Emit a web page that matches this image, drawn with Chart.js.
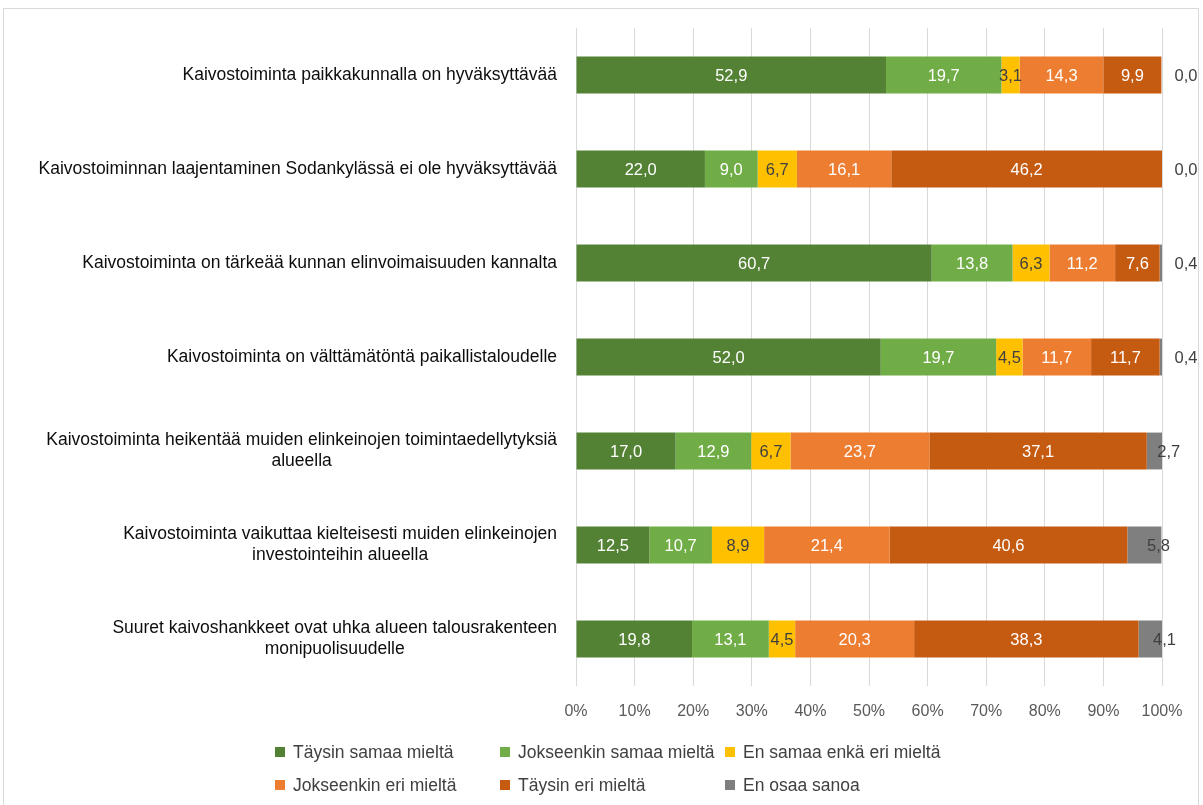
<!DOCTYPE html>
<html>
<head>
<meta charset="utf-8">
<script src="https://cdn.jsdelivr.net/npm/chart.js@4"></script>
<style>
  html, body { margin: 0; padding: 0; background: #fff; }
  #wrap { position: relative; width: 1203px; height: 805px; overflow: hidden; }
  #frame { position: absolute; left: 3px; top: 8px; width: 1196px; height: 800px; border: 1px solid #d9d9d9; box-sizing: border-box; }
  canvas { position: absolute; left: 0; top: 0; }
  .leg { position: absolute; font: 17.5px "Liberation Sans", Arial, sans-serif; color: #404040; white-space: nowrap; }
  .leg i { position: absolute; left: 0; top: 5px; width: 10px; height: 10px; }
  .leg span { position: absolute; left: 18px; top: 0; }
</style>
</head>
<body>
<div id="wrap">
  <div id="frame"></div>
  <canvas id="chart" width="1203" height="805"></canvas>
  <div id="legend"></div>
</div>
<script>
// statements (y axis), top to bottom
const categories = [
    ['Kaivostoiminta paikkakunnalla on hyväksyttävää'],
    ['Kaivostoiminnan laajentaminen Sodankylässä ei ole hyväksyttävää'],
    ['Kaivostoiminta on tärkeää kunnan elinvoimaisuuden kannalta'],
    ['Kaivostoiminta on välttämätöntä paikallistaloudelle'],
    ['Kaivostoiminta heikentää muiden elinkeinojen toimintaedellytyksiä', 'alueella'],
    ['Kaivostoiminta vaikuttaa kielteisesti muiden elinkeinojen', 'investointeihin alueella'],
    ['Suuret kaivoshankkeet ovat uhka alueen talousrakenteen', 'monipuolisuudelle']
];

const seriesNames = ['Täysin samaa mieltä', 'Jokseenkin samaa mieltä', 'En samaa enkä eri mieltä',
    'Jokseenkin eri mieltä', 'Täysin eri mieltä', 'En osaa sanoa'];

const taysinSamaa = [52.9, 22.0, 60.7, 52.0, 17.0, 12.5, 19.8];
const jokseenkinSamaa = [19.7, 9.0, 13.8, 19.7, 12.9, 10.7, 13.1];
const eiKumpaakaan = [3.1, 6.7, 6.3, 4.5, 6.7, 8.9, 4.5];
const jokseenkinEri = [14.3, 16.1, 11.2, 11.7, 23.7, 21.4, 20.3];
const taysinEri = [9.9, 46.2, 7.6, 11.7, 37.1, 40.6, 38.3];
const eiOsaa = [0.0, 0.0, 0.4, 0.4, 2.7, 5.8, 4.1];

const xTicks = [0, 10, 20, 30, 40, 50, 60, 70, 80, 90, 100];

const colors = ['#548235', '#70ad47', '#ffc000', '#ed7d31', '#c55a11', '#7f7f7f'];
const labelColors = ['#ffffff', '#ffffff', '#404040', '#ffffff', '#ffffff', '#404040'];
const FONT = '"Liberation Sans", Arial, sans-serif';

const series = [taysinSamaa, jokseenkinSamaa, eiKumpaakaan, jokseenkinEri, taysinEri, eiOsaa];

const fmt = v => v.toFixed(1).replace('.', ',');

// labels on the bars
const barLabels = {
    id: 'barLabels',
    afterDatasetsDraw(chart) {
        const ctx = chart.ctx;
        const right = chart.scales.x.getPixelForValue(100);
        ctx.save();
        ctx.font = '16.5px ' + FONT;
        ctx.textAlign = 'center';
        ctx.textBaseline = 'middle';
        chart.data.datasets.forEach((ds, di) => {
            chart.getDatasetMeta(di).data.forEach((bar, i) => {
                const v = ds.data[i];
                let x = (bar.x + bar.base) / 2;
                if (di === 5) x = v < 1 ? right + 24 : x + 14;
                ctx.fillStyle = labelColors[di];
                ctx.fillText(fmt(v), x, bar.y + 1);
            });
        });
        ctx.restore();
    }
};

// category labels, right aligned block with centred lines
const catLabels = {
    id: 'catLabels',
    afterDraw(chart) {
        const ctx = chart.ctx;
        const y = chart.scales.y;
        const edge = chart.scales.x.left - 19;
        ctx.save();
        ctx.font = '17.5px ' + FONT;
        ctx.fillStyle = '#0d0d0d';
        ctx.textAlign = 'center';
        ctx.textBaseline = 'middle';
        categories.forEach((lines, i) => {
            const w = Math.max(...lines.map(l => ctx.measureText(l).width));
            const cy = y.getPixelForValue(i);
            const lh = 21;
            lines.forEach((l, k) => {
                ctx.fillText(l, edge - w / 2, cy + (k - (lines.length - 1) / 2) * lh);
            });
        });
        ctx.restore();
    }
};

new Chart(document.getElementById('chart'), {
    type: 'bar',
    data: {
        labels: categories.map(c => c.join(' ')),
        datasets: series.map((d, i) => ({
            label: seriesNames[i],
            data: d,
            backgroundColor: colors[i],
            borderWidth: 0,
            barPercentage: 0.8,
            categoryPercentage: 0.49
        }))
    },
    options: {
        indexAxis: 'y',
        responsive: false,
        animation: false,
        layout: { padding: { left: 0, right: 41, top: 28, bottom: 79 } },
        plugins: { legend: { display: false }, tooltip: { enabled: false } },
        scales: {
            x: {
                stacked: true,
                min: 0,
                max: 100,
                afterBuildTicks: s => { s.ticks = xTicks.map(v => ({ value: v })); },
                ticks: { callback: v => v + '%', color: '#595959', font: { size: 16, family: FONT }, padding: 16 },
                grid: { color: '#d9d9d9', drawTicks: false },
                border: { display: false },
                afterFit: s => { s.height = 40; }
            },
            y: {
                stacked: true,
                ticks: { display: false },
                grid: { display: false },
                border: { display: false },
                afterFit: s => { s.width = 576; }
            }
        }
    },
    plugins: [barLabels, catLabels]
});

// legend in three columns
const legend = document.getElementById('legend');
seriesNames.forEach((name, i) => {
    const el = document.createElement('div');
    el.className = 'leg';
    el.style.left = (275 + (i % 3) * 225) + 'px';
    el.style.top = (742 + Math.floor(i / 3) * 33) + 'px';
    el.innerHTML = '<i style="background:' + colors[i] + '"></i><span>' + name + '</span>';
    legend.appendChild(el);
});
</script>
</body>
</html>
